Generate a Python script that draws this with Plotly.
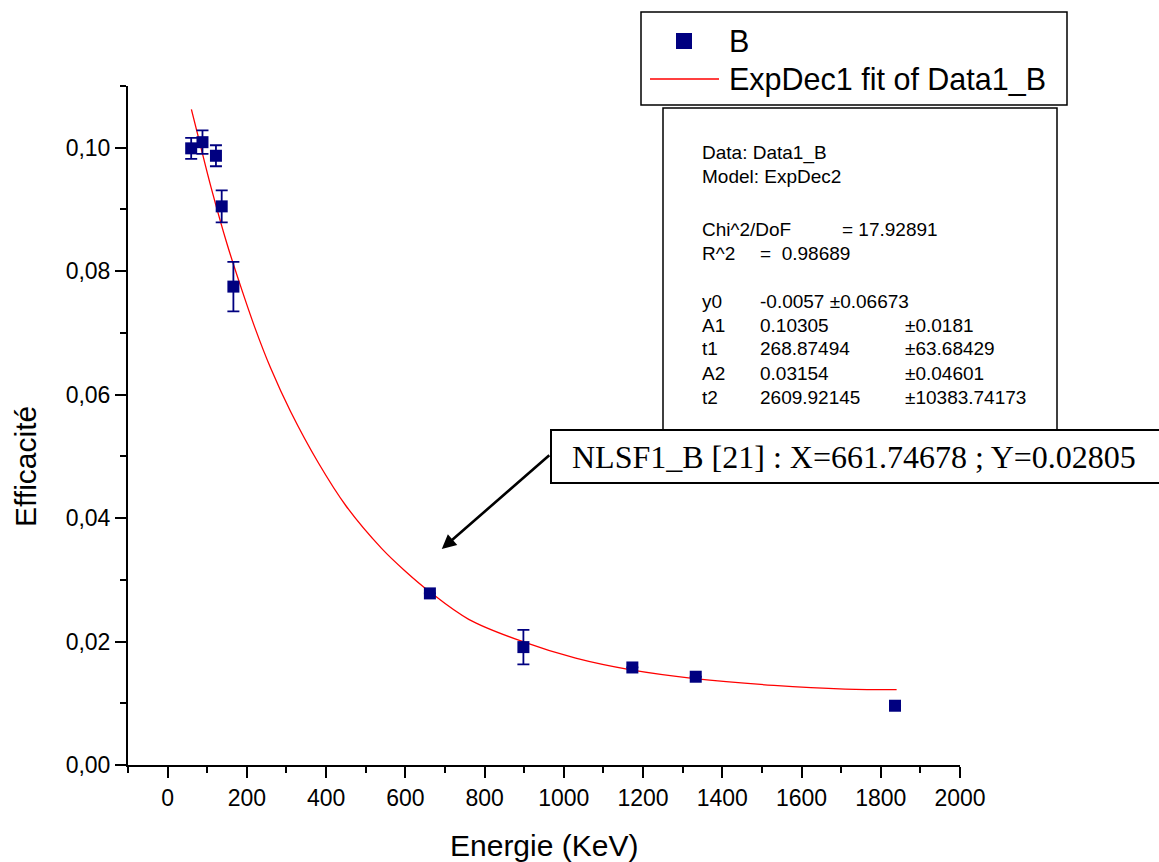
import plotly.graph_objects as go

# Measured efficiency points (energy in keV)
energy = [59.5, 88.0, 122.0, 136.5, 166.0, 662.0, 898.0, 1173.0, 1333.0, 1836.0]
efficiency = [0.0999, 0.1009, 0.0987, 0.0905, 0.0775, 0.0278, 0.0191, 0.0158, 0.0143, 0.0096]
efficiency_err = [0.0017, 0.0019, 0.0017, 0.0026, 0.0040, 0.0, 0.0028, 0.0, 0.0, 0.0]

# Fitted decay curve, sampled along the energy range
fit_energy = [60, 80, 110, 150, 180, 220, 260, 310, 380, 450, 540, 600,
              661.74678, 760, 900, 1030, 1170, 1330, 1530, 1710, 1840]
fit_efficiency = [0.1062, 0.1011, 0.0935, 0.0844, 0.0784, 0.0709, 0.0643, 0.0573,
                  0.0490, 0.0420, 0.0351, 0.0314, 0.02805, 0.0236, 0.0199, 0.0173,
                  0.0154, 0.0140, 0.0129, 0.0123, 0.0122]

x_tick_vals = [0, 200, 400, 600, 800, 1000, 1200, 1400, 1600, 1800, 2000]
x_tick_text = ["0", "200", "400", "600", "800", "1000", "1200", "1400", "1600", "1800", "2000"]
y_tick_vals = [0.0, 0.02, 0.04, 0.06, 0.08, 0.10]
y_tick_text = ["0,00", "0,02", "0,04", "0,06", "0,08", "0,10"]

legend_labels = ["B", "ExpDec1 fit of Data1_B"]
stats_rows = [
    ["Data: Data1_B", "", ""],
    ["Model: ExpDec2", "", ""],
    ["Chi^2/DoF", "= 17.92891", ""],
    ["R^2", "=  0.98689", ""],
    ["y0", "-0.0057 ±0.06673", ""],
    ["A1", "0.10305", "±0.0181"],
    ["t1", "268.87494", "±63.68429"],
    ["A2", "0.03154", "±0.04601"],
    ["t2", "2609.92145", "±10383.74173"],
]
cursor_label = "NLSF1_B [21] : X=661.74678 ; Y=0.02805"

W, H = 1159, 862
ML, MR, MT, MB = 128, 199, 86, 97
PW, PH = W - ML - MR, H - MT - MB
NAVY = "#000080"
SANS = "Liberation Sans, Arial, sans-serif"
SERIF = "Liberation Serif, Times New Roman, serif"


def px(x):
    return (x - ML) / PW


def py(y):
    return (H - MB - y) / PH


fig = go.Figure()

fig.add_trace(go.Scatter(
    x=fit_energy, y=fit_efficiency, mode="lines",
    line=dict(color="#ff0000", width=1.3, shape="spline"),
    name=legend_labels[1], showlegend=False, hoverinfo="skip",
))

fig.add_trace(go.Scatter(
    x=energy, y=efficiency, mode="markers",
    marker=dict(symbol="square", size=12, color=NAVY, line=dict(width=0)),
    error_y=dict(type="data", array=efficiency_err, visible=True,
                 color=NAVY, thickness=1.8, width=6),
    name=legend_labels[0], showlegend=False,
))

shapes = []
annotations = []

# Legend frame with its two entries
shapes.append(dict(type="rect", xref="paper", yref="paper",
                   x0=px(641), x1=px(1067), y0=py(105), y1=py(12),
                   line=dict(color="black", width=1.5), fillcolor="white", layer="above"))
shapes.append(dict(type="rect", xref="paper", yref="paper",
                   x0=px(676), x1=px(692), y0=py(49), y1=py(33),
                   line=dict(width=0), fillcolor=NAVY, layer="above"))
shapes.append(dict(type="line", xref="paper", yref="paper",
                   x0=px(650), x1=px(719), y0=py(79), y1=py(79),
                   line=dict(color="#ff0000", width=1.3), layer="above"))
for label, yc in zip(legend_labels, [41, 79]):
    annotations.append(dict(xref="paper", yref="paper", x=px(727), y=py(yc),
                            xanchor="left", yanchor="middle", text=label, showarrow=False,
                            font=dict(family=SANS, size=30.5, color="black")))

# Fit results box
shapes.append(dict(type="rect", xref="paper", yref="paper",
                   x0=px(663), x1=px(1057), y0=py(470), y1=py(108),
                   line=dict(color="black", width=1.5), fillcolor="white", layer="above"))
row_y = [153, 177, 229, 253, 301, 325, 349, 373, 397]
col_x = [700, 758, 903]
for row, yc in zip(stats_rows, row_y):
    for ci, cell in enumerate(row):
        if not cell:
            continue
        xc = col_x[ci]
        if row[0] == "Chi^2/DoF" and ci == 1:
            xc = 840
        annotations.append(dict(xref="paper", yref="paper", x=px(xc), y=py(yc),
                                xanchor="left", yanchor="middle", text=cell, showarrow=False,
                                font=dict(family=SANS, size=19, color="black")))

# Data cursor readout with pointer
shapes.append(dict(type="rect", xref="paper", yref="paper",
                   x0=px(551), x1=px(1162), y0=py(483), y1=py(430),
                   line=dict(color="black", width=2), fillcolor="white", layer="above"))
annotations.append(dict(xref="paper", yref="paper", x=px(570), y=py(457),
                        xanchor="left", yanchor="middle", text=cursor_label, showarrow=False,
                        font=dict(family=SERIF, size=32, color="black")))
annotations.append(dict(xref="x", yref="y", x=692.0, y=0.0350, text="",
                        showarrow=True, ax=109, ay=-95, arrowhead=2, arrowsize=1.1,
                        arrowwidth=2.6, arrowcolor="black"))

# Axis titles
annotations.append(dict(xref="paper", yref="paper", x=px(544), y=py(845),
                        xanchor="center", yanchor="middle", text="Energie (KeV)",
                        showarrow=False, font=dict(family=SANS, size=30, color="black")))
annotations.append(dict(xref="paper", yref="paper", x=px(25), y=py(467),
                        xanchor="center", yanchor="middle", text="Efficacité", textangle=-90,
                        showarrow=False, font=dict(family=SANS, size=30, color="black")))

axis_common = dict(showline=True, linecolor="black", linewidth=2, showgrid=False,
                   zeroline=False, ticks="outside", ticklen=11, tickwidth=2,
                   tickcolor="black", tickfont=dict(family=SANS, size=23, color="black"))

fig.update_xaxes(range=[-100, 2000], tickmode="array", tickvals=x_tick_vals,
                 ticktext=x_tick_text,
                 minor=dict(ticks="outside", ticklen=6, tickwidth=2, tickcolor="black",
                            dtick=100, tick0=0),
                 **axis_common)
fig.update_yaxes(range=[0, 0.11], tickmode="array", tickvals=y_tick_vals,
                 ticktext=y_tick_text,
                 minor=dict(ticks="outside", ticklen=6, tickwidth=2, tickcolor="black",
                            dtick=0.01, tick0=0),
                 **axis_common)

fig.update_layout(
    width=W, height=H,
    margin=dict(l=ML, r=MR, t=MT, b=MB, autoexpand=False),
    paper_bgcolor="white", plot_bgcolor="white",
    showlegend=False, shapes=shapes, annotations=annotations,
)

fig.write_html("out.html")
